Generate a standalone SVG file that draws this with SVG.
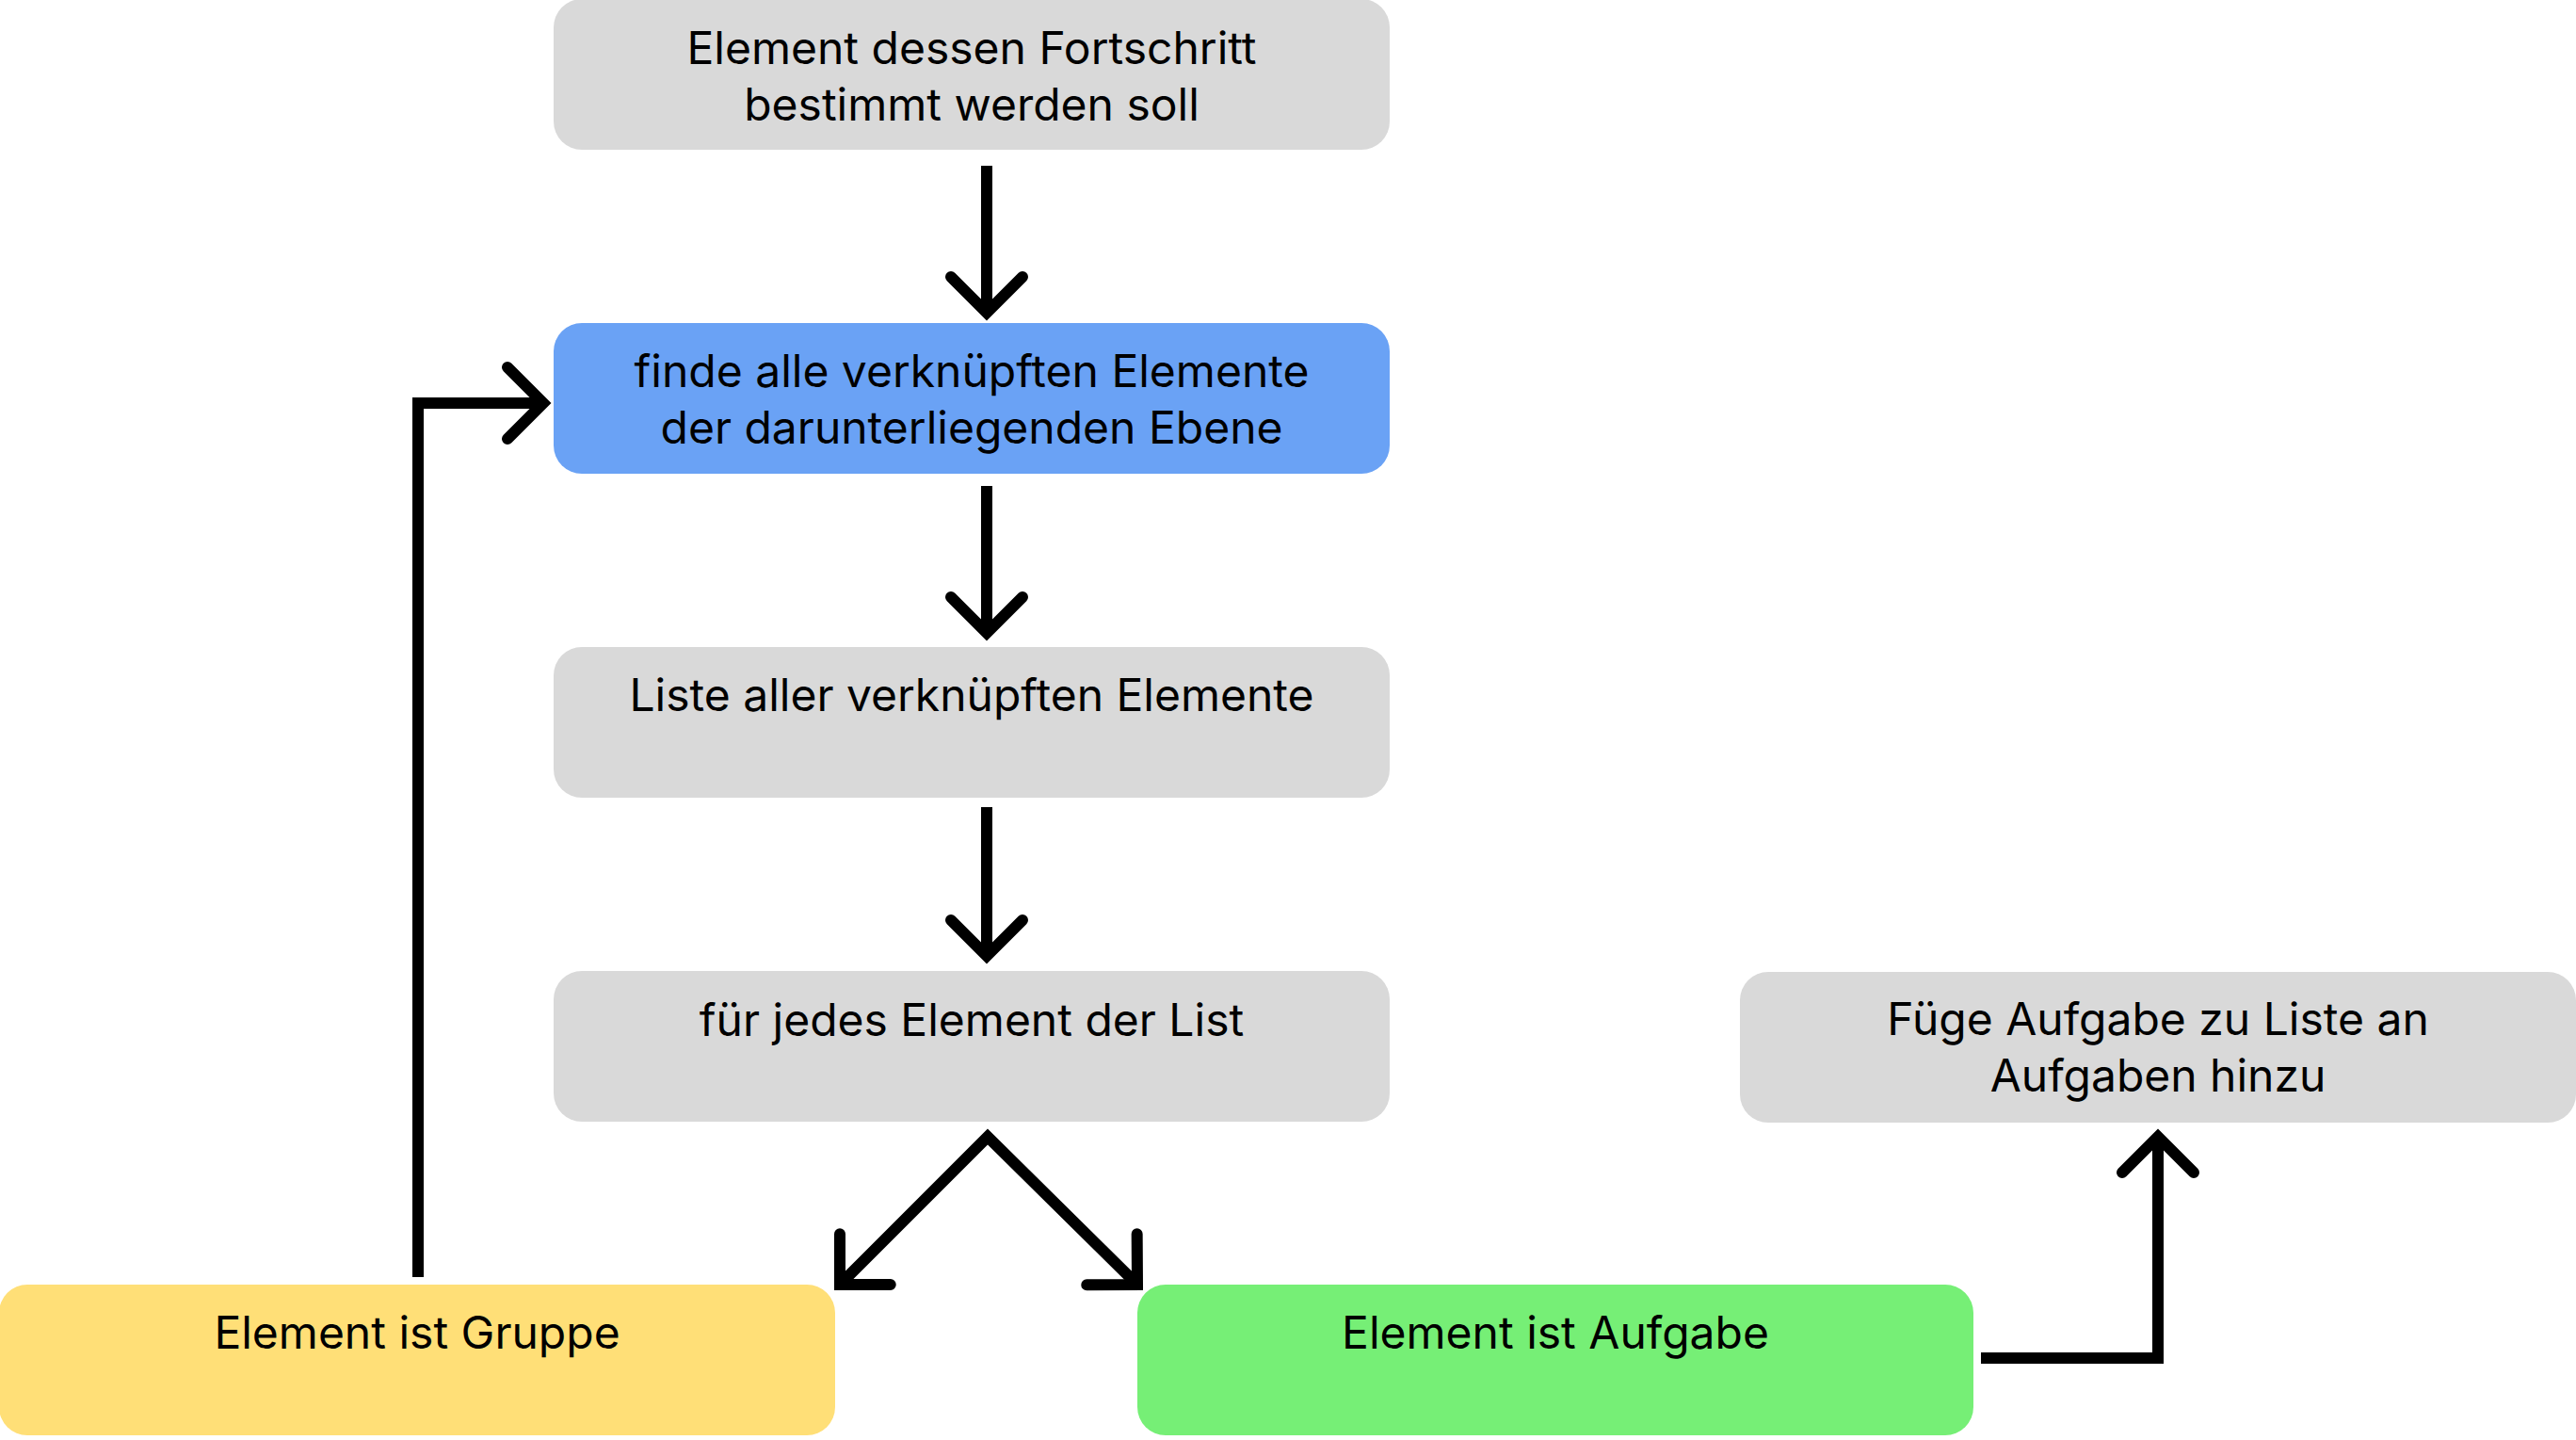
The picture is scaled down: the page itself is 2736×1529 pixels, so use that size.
<svg xmlns="http://www.w3.org/2000/svg" width="2736" height="1529" viewBox="0 0 2736 1529">
<defs>
<style>
.box{stroke:none}
.gray{fill:#D9D9D9}
.blue{fill:#6AA2F5}
.yellow{fill:#FFDF77}
.green{fill:#76EF76}
.lbl{font-family:Inter,"Noto Sans","Liberation Sans",sans-serif;font-size:48px;fill:#000;text-anchor:middle}
.conn{fill:none;stroke:#000;stroke-width:12;stroke-linejoin:miter;stroke-linecap:butt}
</style>
<marker id="ah" markerUnits="userSpaceOnUse" orient="auto-start-reverse" markerWidth="120" markerHeight="120" viewBox="-60 -60 120 120" refX="0" refY="0" overflow="visible">
<path d="M-38,-38 L0,0 L-38,38" fill="none" stroke="#000" stroke-width="12" stroke-linecap="round" stroke-linejoin="miter"/>
</marker>
</defs>
<rect width="2736" height="1529" fill="#FFFFFF"/>
<g id="n1"><rect class="box gray" x="588" y="-1" width="888" height="160" rx="30"/><text class="lbl" x="1032" y="68">Element dessen Fortschritt</text><text class="lbl" x="1032" y="128">bestimmt werden soll</text></g>
<g id="n2"><rect class="box blue" x="588" y="343" width="888" height="160" rx="30"/><text class="lbl" x="1032" y="411">finde alle verknüpften Elemente</text><text class="lbl" x="1032" y="471">der darunterliegenden Ebene</text></g>
<g id="n3"><rect class="box gray" x="588" y="687" width="888" height="160" rx="30"/><text class="lbl" x="1032" y="755">Liste aller verknüpften Elemente</text></g>
<g id="n4"><rect class="box gray" x="588" y="1031" width="888" height="160" rx="30"/><text class="lbl" x="1032" y="1100">für jedes Element der List</text></g>
<g id="n5"><rect class="box gray" x="1848" y="1032" width="888" height="160" rx="30"/><text class="lbl" x="2292" y="1099">Füge Aufgabe zu Liste an</text><text class="lbl" x="2292" y="1159">Aufgaben hinzu</text></g>
<g id="n6"><rect class="box yellow" x="-1" y="1364" width="888" height="160" rx="30"/><text class="lbl" x="443" y="1432">Element ist Gruppe</text></g>
<g id="n7"><rect class="box green" x="1208" y="1364" width="888" height="160" rx="30"/><text class="lbl" x="1652" y="1432">Element ist Aufgabe</text></g>
<g id="connectors">
<path class="conn" d="M1048,176 L1048,332" marker-end="url(#ah)"/>
<path class="conn" d="M1048,516 L1048,672" marker-end="url(#ah)"/>
<path class="conn" d="M1048,857 L1048,1015" marker-end="url(#ah)"/>
<path class="conn" d="M892,1364 L1049,1207 L1208,1364" marker-start="url(#ah)" marker-end="url(#ah)"/>
<path class="conn" d="M444,1356 L444,428 L577,428" marker-end="url(#ah)"/>
<path class="conn" d="M2104,1442 L2292,1442 L2292,1207" marker-end="url(#ah)"/>
</g>
</svg>
